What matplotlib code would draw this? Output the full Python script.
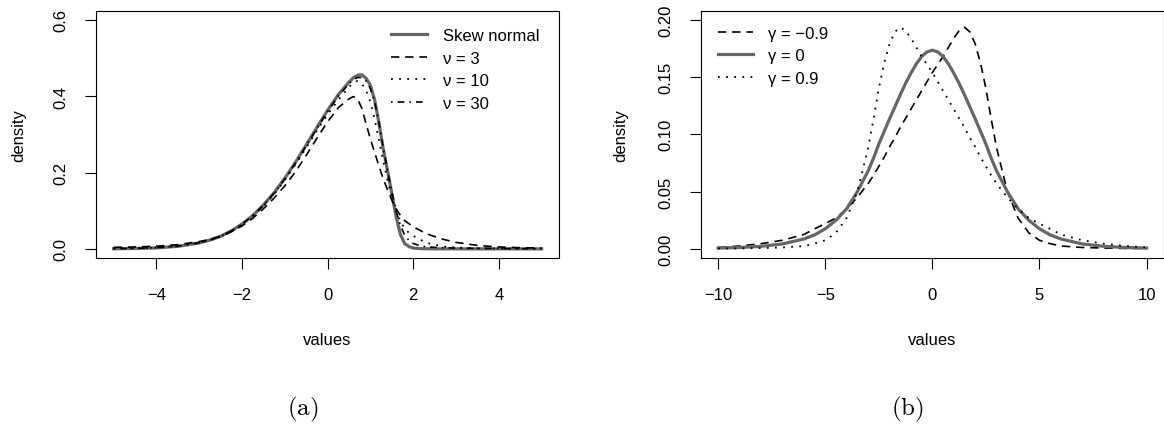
import matplotlib
matplotlib.use('Agg')
import matplotlib.pyplot as plt
from matplotlib.ticker import FormatStrFormatter

plt.rcParams['font.family'] = ['Liberation Sans', 'DejaVu Sans']
plt.rcParams['mathtext.fontset'] = 'cm'

# (a) skew normal vs skew-t densities
x_a = [-5, -4.5, -4, -3.5, -3, -2.75, -2.5, -2.25, -2, -1.75,
       -1.5, -1.25, -1, -0.75, -0.5, -0.25, 0, 0.25, 0.5, 0.6,
       0.7, 0.8, 0.9, 1.0, 1.1, 1.2, 1.3, 1.4, 1.5, 1.6,
       1.7, 1.8, 1.9, 2.0, 2.2, 2.4, 2.7, 3.0, 3.5, 4.0,
       4.5, 5.0]
skew_normal = [0.0003, 0.0009, 0.0026, 0.0066, 0.0155, 0.023, 0.033, 0.047, 0.065, 0.087,
               0.115, 0.147, 0.185, 0.227, 0.272, 0.318, 0.363, 0.404, 0.437, 0.448,
               0.455, 0.456, 0.447, 0.428, 0.39, 0.33, 0.262, 0.205, 0.145, 0.085,
               0.038, 0.014, 0.006, 0.002, 0.0005, 0.0001, 0, 0, 0, 0,
               0, 0]
nu3 = [0.004, 0.005, 0.007, 0.011, 0.019, 0.025, 0.033, 0.045, 0.06, 0.08,
       0.105, 0.133, 0.165, 0.202, 0.245, 0.29, 0.333, 0.37, 0.393, 0.399,
       0.393, 0.368, 0.327, 0.288, 0.252, 0.217, 0.183, 0.155, 0.128, 0.105,
       0.088, 0.074, 0.066, 0.058, 0.046, 0.036, 0.025, 0.017, 0.009, 0.005,
       0.003, 0.002]
nu10 = [0.001, 0.0017, 0.003, 0.0075, 0.016, 0.023, 0.033, 0.046, 0.064, 0.086,
        0.112, 0.143, 0.18, 0.221, 0.265, 0.31, 0.352, 0.39, 0.424, 0.435,
        0.44, 0.433, 0.414, 0.385, 0.34, 0.285, 0.23, 0.18, 0.135, 0.098,
        0.072, 0.054, 0.042, 0.034, 0.022, 0.013, 0.006, 0.0035, 0.0015, 0.0008,
        0.0005, 0.0003]
nu30 = [0.0005, 0.0012, 0.003, 0.007, 0.016, 0.023, 0.033, 0.047, 0.065, 0.087,
        0.114, 0.146, 0.183, 0.225, 0.27, 0.315, 0.36, 0.4, 0.433, 0.443,
        0.449, 0.449, 0.44, 0.42, 0.385, 0.33, 0.265, 0.205, 0.15, 0.1,
        0.062, 0.036, 0.022, 0.014, 0.007, 0.0045, 0.003, 0.002, 0.0012, 0.0008,
        0.0005, 0.0004]

# (b) densities for three values of gamma
x_b = [-10, -9, -8, -7, -6, -5.5, -5, -4.5, -4, -3.5,
       -3, -2.75, -2.5, -2.25, -2, -1.75, -1.5, -1.25, -1, -0.75,
       -0.5, -0.25, 0, 0.25, 0.5, 0.75, 1, 1.25, 1.5, 1.75,
       2, 2.25, 2.5, 2.75, 3, 3.5, 4, 4.5, 5, 5.5,
       6, 7, 8, 9, 10]
gamma_neg = [0.0012, 0.0025, 0.0045, 0.0075, 0.0125, 0.0175, 0.022, 0.027, 0.035, 0.045,
             0.057, 0.064, 0.072, 0.08, 0.089, 0.097, 0.106, 0.114, 0.122, 0.13,
             0.138, 0.146, 0.154, 0.161, 0.168, 0.176, 0.184, 0.1905, 0.1935, 0.1895,
             0.179, 0.162, 0.14, 0.113, 0.088, 0.05, 0.027, 0.014, 0.0075, 0.0045,
             0.0025, 0.0012, 0.0007, 0.0004, 0.0003]
gamma_zero = [0.0007, 0.0012, 0.0022, 0.0043, 0.0086, 0.0122, 0.0175, 0.025, 0.035, 0.05,
              0.068, 0.079, 0.0915, 0.1025, 0.1135, 0.124, 0.1345, 0.1445, 0.1535, 0.1615,
              0.168, 0.172, 0.1735, 0.172, 0.168, 0.1615, 0.1535, 0.1445, 0.1345, 0.124,
              0.1135, 0.1025, 0.0915, 0.079, 0.068, 0.05, 0.035, 0.025, 0.0175, 0.0122,
              0.0086, 0.0043, 0.0022, 0.0012, 0.0007]
gamma_pos = [0.0003, 0.0004, 0.0007, 0.0012, 0.0025, 0.0045, 0.0075, 0.014, 0.027, 0.05,
             0.088, 0.113, 0.14, 0.162, 0.179, 0.1895, 0.1935, 0.1905, 0.184, 0.176,
             0.168, 0.161, 0.154, 0.146, 0.138, 0.13, 0.122, 0.114, 0.106, 0.097,
             0.089, 0.08, 0.072, 0.064, 0.057, 0.045, 0.035, 0.027, 0.022, 0.0175,
             0.0125, 0.0075, 0.0045, 0.0025, 0.0012]

gray = '#666666'
dashed = (0, (5, 3.5))
dotted = (0, (1, 3.5))
dashdot = (0, (1, 3, 4, 3))
fs = 12

fig = plt.figure(figsize=(11.64, 4.27), dpi=100)
ax1 = fig.add_axes([0.0829, 0.3934, 0.3971, 0.5792])
ax2 = fig.add_axes([0.6022, 0.3934, 0.3976, 0.5792])

# panel (a)
ax1.plot(x_a, skew_normal, color=gray, lw=2.3, label='Skew normal')
ax1.plot(x_a, nu3, color='black', lw=1.2, ls=dashed, label='ν = 3')
ax1.plot(x_a, nu10, color='black', lw=1.3, ls=dotted, label='ν = 10')
ax1.plot(x_a, nu30, color='black', lw=1.2, ls=dashdot, label='ν = 30')
ax1.set_xlim(-5.4, 5.4)
ax1.set_ylim(-0.024, 0.624)
ax1.set_xticks([-4, -2, 0, 2, 4])
ax1.set_yticks([0.0, 0.2, 0.4, 0.6])
ax1.yaxis.set_major_formatter(FormatStrFormatter('%.1f'))
ax1.legend(loc='upper left', bbox_to_anchor=(0.637, 0.93), frameon=False, fontsize=fs,
           handlelength=2.15, handletextpad=1.0, labelspacing=0.45,
           borderaxespad=0, borderpad=0)

# panel (b)
l_neg, = ax2.plot(x_b, gamma_neg, color='black', lw=1.2, ls=dashed)
l_zero, = ax2.plot(x_b, gamma_zero, color=gray, lw=2.3)
l_pos, = ax2.plot(x_b, gamma_pos, color='black', lw=1.3, ls=dotted)
ax2.set_xlim(-10.8, 10.8)
ax2.set_ylim(-0.008, 0.208)
ax2.set_xticks([-10, -5, 0, 5, 10])
ax2.set_yticks([0.0, 0.05, 0.10, 0.15, 0.20])
ax2.yaxis.set_major_formatter(FormatStrFormatter('%.2f'))
ax2.legend([l_neg, l_zero, l_pos], ['γ = −0.9', 'γ = 0', 'γ = 0.9'],
           loc='upper left', bbox_to_anchor=(0.036, 0.94), frameon=False, fontsize=fs,
           handlelength=2.1, handletextpad=0.9, labelspacing=0.45,
           borderaxespad=0, borderpad=0)

for ax in (ax1, ax2):
    for s in ax.spines.values():
        s.set_linewidth(0.8)
    ax.tick_params(direction='out', length=8, width=0.8, labelsize=fs)
    ax.tick_params(axis='x', pad=13)
    ax.tick_params(axis='y', pad=12, labelrotation=90)
    for lab in ax.get_yticklabels():
        lab.set_va('center')
    ax.set_xlabel('values', fontsize=fs, va='center')
    ax.xaxis.set_label_coords(0.5, -0.3275)
    ax.set_ylabel('density', fontsize=fs, va='center')
ax1.yaxis.set_label_coords(-0.169, 0.5)
ax2.yaxis.set_label_coords(-0.173, 0.5)

fig.text(0.2603, 0.040, r'$(\mathrm{a})$', fontsize=18, ha='center', va='center')
fig.text(0.7792, 0.040, r'$(\mathrm{b})$', fontsize=18, ha='center', va='center')

fig.savefig('out.png', dpi=100)
